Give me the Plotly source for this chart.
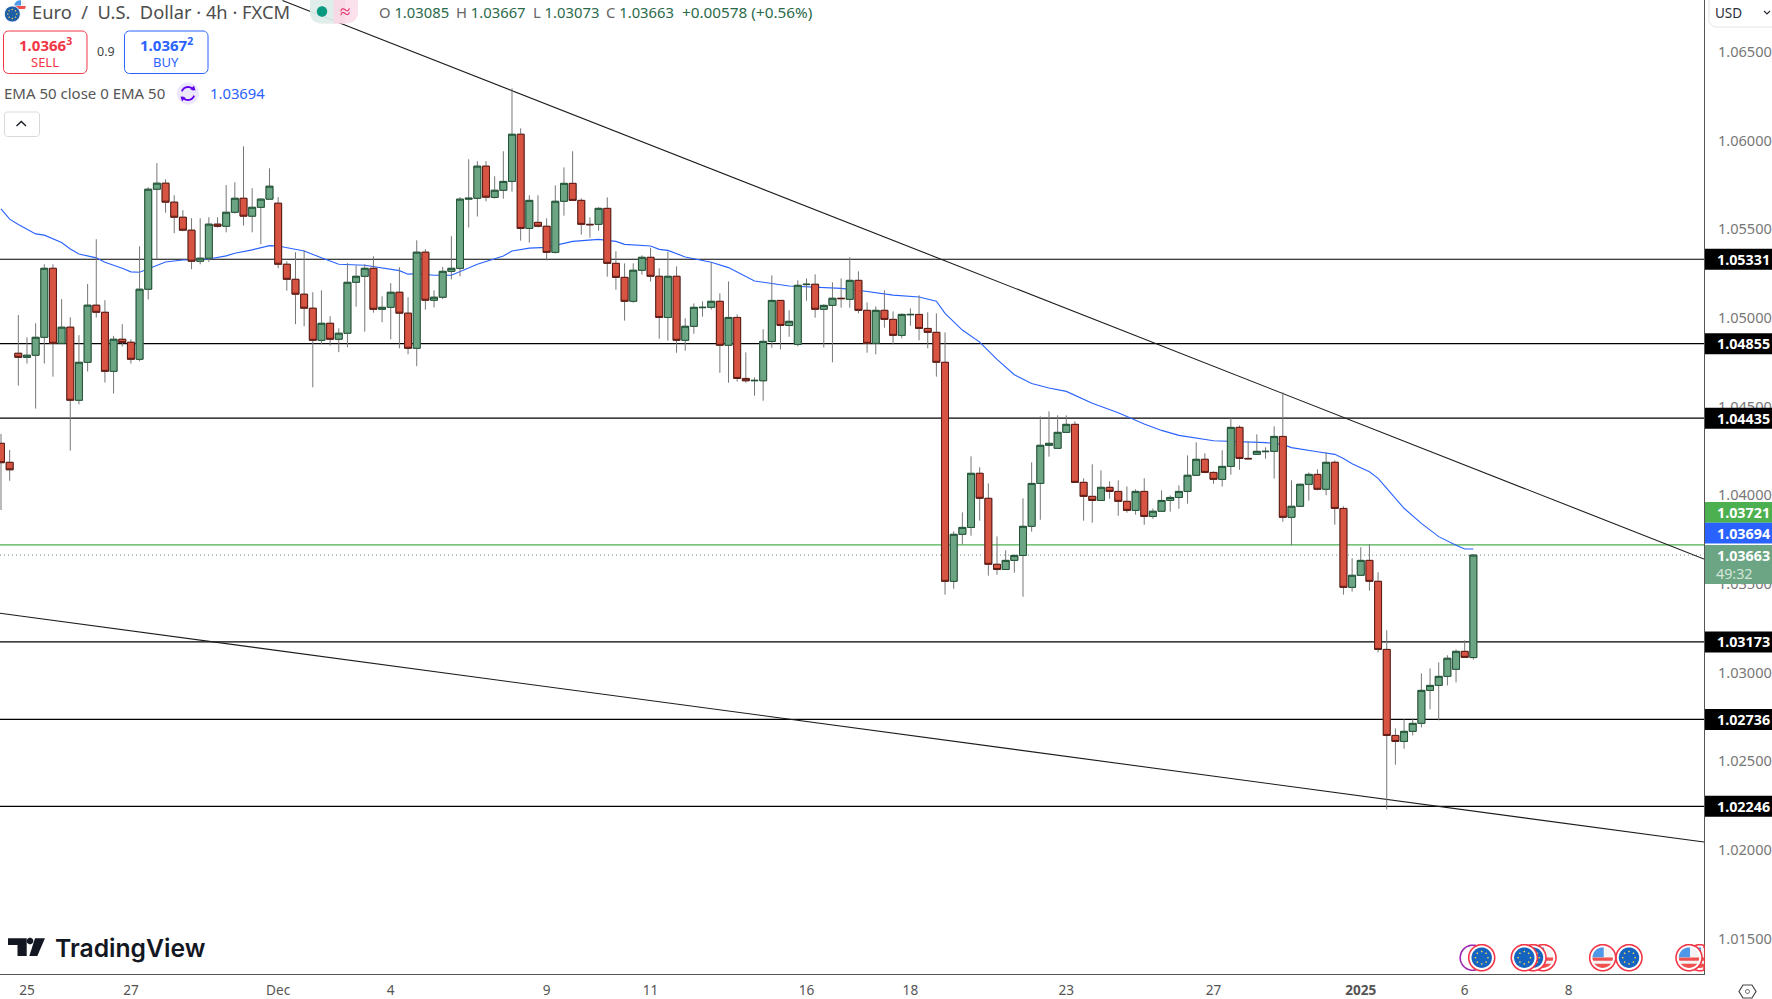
import math
import plotly.graph_objects as go

OPEN_P = [104293,104186,104801,104778,104790,104891,105280,104857,104948,104536,
104750,105072,105032,104699,104880,104863,104767,105162,105726,105760,
105653,105568,105495,105320,105337,105529,105517,105596,105675,105574,
105624,105670,105647,105303,105218,105134,105055,104874,104970,104880,
104914,105201,105235,105280,105049,105060,105145,105027,104829,105371,
105100,105117,105263,105280,105670,105675,105856,105680,105720,105770,
106036,105505,105539,105517,105370,105658,105759,105663,105528,105528,
105618,105308,105229,105094,105269,105342,105235,105003,105235,104874,
104953,105058,105060,105094,104846,105003,104659,104646,104646,104868,
105099,104958,104851,105188,105190,105049,105071,105111,105105,105212,
105043,104857,105043,104992,104902,105018,105020,104941,104919,104750,
103515,103780,103819,104124,103983,103611,103582,103633,103661,103825,
104067,104282,104265,104355,104400,104073,103994,103971,104045,104022,
103966,103915,104022,103881,103910,103971,103988,104022,104113,104203,
104129,104090,104163,104383,104208,104231,104246,104248,104332,103876,
103938,104062,104118,104034,104186,103926,103481,103549,103633,103515,
103131,102646,102612,102669,102714,102900,102928,102979,103019,103120,103085]
HIGH_P = [104346,104256,105017,104891,104970,105303,105303,105106,105004,104903,
105192,105444,105100,104899,104965,104880,105404,105737,105873,105782,
105692,105608,105562,105562,105568,105568,105749,105765,105968,105732,
105675,105844,105681,105320,105371,105382,105145,105156,105010,104942,
105309,105297,105303,105348,105122,105196,105286,105117,105438,105388,
105156,105288,105461,105681,105895,105884,105884,105799,105940,106295,
106069,105692,105692,105562,105748,105849,105940,105675,105567,105624,
105680,105376,105308,105308,105353,105396,105280,105374,105291,104998,
105082,105094,105314,105139,105206,105020,104806,104665,104936,105240,
105099,105043,105212,105223,105246,105077,105201,105223,105342,105263,
105088,105065,105156,105037,105026,105054,105128,105032,105026,104919,
103797,103904,104220,104158,104067,103768,103690,103667,103983,104186,
104445,104473,104451,104451,104417,104096,104175,104141,104079,104084,
104050,104034,104096,103926,104028,103999,104056,104225,104299,104237,
104135,104254,104440,104394,104304,104344,104270,104389,104581,104084,
104067,104129,104146,104242,104197,103938,103645,103707,103724,103566,
103239,102686,102737,102742,102996,103024,103058,103098,103131,103182,103667]
LOW_P = [103917,104082,104619,104743,104489,104743,104669,104857,104252,104513,
104698,105002,104636,104574,104839,104743,104756,105104,105331,105594,
105478,105489,105275,105303,105316,105510,105483,105589,105521,105483,
105416,105670,105280,105154,104965,104953,104609,104852,104844,104807,
104835,105064,104923,105030,104976,104880,104829,104795,104728,105047,
105060,105106,105218,105235,105510,105572,105658,105673,105673,105712,
105436,105425,105511,105325,105364,105577,105663,105470,105453,105492,
105233,105159,104985,105086,105244,105205,104883,104872,104804,104815,
104911,105007,105047,104691,104635,104641,104635,104562,104533,104832,
104823,104894,104840,105097,105002,104834,104750,105058,105058,105026,
104804,104795,104945,104851,104885,104956,104874,104829,104669,103440,
103473,103723,103772,103857,103547,103552,103580,103564,103428,103795,
103862,104218,104265,104355,104073,103857,103846,103971,103981,103885,
103902,103891,103834,103868,103910,103908,103924,103953,104113,104124,
104065,104049,104116,104144,104206,104231,104206,104094,103851,103718,
103938,103970,104028,104000,103834,103440,103457,103549,103462,103114,
102229,102481,102571,102646,102691,102793,102731,102928,102945,103086,103073]
CLOSE_P = [104184,104144,104778,104790,104891,105280,104857,104948,104536,104750,
105072,105032,104699,104880,104861,104767,105162,105726,105760,105653,
105568,105495,105320,105337,105529,105517,105596,105675,105574,105624,
105670,105743,105303,105218,105134,105055,104874,104970,104880,104914,
105201,105235,105280,105049,105060,105145,105027,104829,105371,105100,
105117,105263,105280,105670,105675,105856,105681,105720,105770,106036,
105505,105663,105517,105370,105658,105759,105663,105528,105526,105618,
105308,105229,105094,105269,105342,105235,105003,105235,104874,104953,
105060,105060,105094,104846,105003,104659,104646,104648,104868,105099,
104958,104981,105184,105190,105049,105071,105111,105109,105212,105043,
104857,105043,104992,104902,105020,105020,104941,104919,104750,103515,
103780,103819,104124,103983,103611,103582,103633,103661,103825,104067,
104282,104293,104355,104400,104073,103994,103971,104045,104022,103966,
103915,104022,103881,103910,103971,103988,104022,104113,104203,104129,
104090,104163,104383,104208,104206,104248,104248,104332,103876,103938,
104062,104118,104034,104186,103926,103481,103549,103633,103515,103131,
102646,102612,102669,102714,102900,102928,102979,103081,103120,103086,103663]

EMA_BAR = [0,1,2,4,5,7,8,9,11,12,14,15,16,18,19,21,24,26,27,29,31,32,35,37,39,42,46,47,48,50,52,55,57,
58,59,61,63,65,66,69,71,72,75,76,77,79,82,84,87,88,91,97,99,103,106,108,
109,111,113,115,117,119,121,123,126,129,132,134,136,140,144,146,148,149,152,154,
155,156,158,159,160,162,164,166,168,169,170]
EMA_P = [105615,105557,105527,105474,105467,105425,105389,105361,105339,105314,105280,105260,105258,105297,105316,105327,105333,105350,105365,105384,105408,105406,105378,105339,105303,105297,105267,105247,105250,105241,105241,105303,105333,
105349,105378,105394,105398,105423,105432,105443,105432,105415,105406,105387,105381,105344,105314,105284,105208,105201,105180,105167,105156,105129,105118,105094,
105026,104932,104864,104767,104680,104631,104605,104586,104519,104466,104402,104366,104338,104308,104299,104297,104287,104269,104246,104231,
104207,104178,104133,104096,104039,103927,103842,103767,103718,103697,103697]

LEVELS = [1.05331, 1.04855, 1.04435, 1.03173, 1.02736, 1.02246]
LEVEL_LABELS = ["1.05331", "1.04855", "1.04435", "1.03173", "1.02736", "1.02246"]
BID_LINE = 1.03721
LAST_PRICE = 1.03663
TREND_UPPER_BAR = [32.5, 196.63]
TREND_UPPER_PRICE = [1.0679, 1.03641]
TREND_LOWER_BAR = [-0.115, 196.63]
TREND_LOWER_PRICE = [1.03335, 1.02045]
PRICE_TICKS = [1.015, 1.02, 1.025, 1.03, 1.035, 1.04, 1.045, 1.05, 1.055, 1.06, 1.065]
PRICE_TICK_TEXT = ["1.01500", "1.02000", "1.02500", "1.03000", "1.03500", "1.04000", "1.04500", "1.05000", "1.05500", "1.06000", "1.06500"]
TIME_TICKS = [3, 15, 32, 45, 63, 75, 93, 105, 123, 140, 157, 169, 181]
TIME_TEXT = ["25", "27", "Dec", "4", "9", "11", "16", "18", "23", "27", "<b>2025</b>", "6", "8"]

W, H = 1772, 999
PW, PH = 1704, 974
X_RANGE = [-0.115, 196.63]
Y_RANGE = [1.013007, 1.06793]
FONT = "Noto Sans"

bars = list(range(len(OPEN_P)))
o = [v / 1e5 for v in OPEN_P]
h = [v / 1e5 for v in HIGH_P]
l = [v / 1e5 for v in LOW_P]
c = [v / 1e5 for v in CLOSE_P]
body_hi = [max(a, b) for a, b in zip(o, c)]
body_lo = [min(a, b) for a, b in zip(o, c)]

fig = go.Figure()
for lv in LEVELS:
    fig.add_trace(go.Scatter(x=X_RANGE, y=[lv, lv], mode="lines", line=dict(color="#000000", width=1.2), hoverinfo="skip"))
fig.add_trace(go.Scatter(x=X_RANGE, y=[BID_LINE, BID_LINE], mode="lines", line=dict(color="#4caf50", width=1.2), hoverinfo="skip"))
fig.add_trace(go.Scatter(x=X_RANGE, y=[LAST_PRICE, LAST_PRICE], mode="lines", line=dict(color="#5f8f75", width=1, dash="1px 3px"), hoverinfo="skip"))
fig.add_trace(go.Scatter(x=TREND_UPPER_BAR, y=TREND_UPPER_PRICE, mode="lines", line=dict(color="#1c1c1c", width=1.1), hoverinfo="skip"))
fig.add_trace(go.Scatter(x=TREND_LOWER_BAR, y=TREND_LOWER_PRICE, mode="lines", line=dict(color="#1c1c1c", width=1.1), hoverinfo="skip"))
fig.add_trace(go.Scatter(x=EMA_BAR, y=[v / 1e5 for v in EMA_P], mode="lines", line=dict(color="#2962ff", width=1.1), hoverinfo="skip"))

fig.add_trace(go.Candlestick(x=bars, open=o, high=h, low=l, close=c, xaxis="x2", yaxis="y2", whiskerwidth=0, hoverinfo="skip",
    increasing=dict(line=dict(color="#777777", width=1), fillcolor="#777777"),
    decreasing=dict(line=dict(color="#777777", width=1), fillcolor="#777777")))
fig.add_trace(go.Candlestick(x=bars, open=o, high=body_hi, low=body_lo, close=c, xaxis="x2", yaxis="y2", whiskerwidth=0, hoverinfo="skip",
    increasing=dict(line=dict(color="#225437", width=1), fillcolor="#6ba583"),
    decreasing=dict(line=dict(color="#5b1a13", width=1), fillcolor="#d75442")))


def px(x):
    return x / PW


def py(y):
    return 1 - y / PH


shapes = []
annos = []


def poly(points, fill=None, line=None, lw=1, closed=True):
    d = "M " + " L ".join(f"{px(x):.6f} {py(y):.6f}" for x, y in points) + (" Z" if closed else "")
    shapes.append(dict(type="path", xref="paper", yref="paper", path=d, layer="above",
                       fillcolor=fill if fill else "rgba(0,0,0,0)",
                       line=dict(color=line if line else "rgba(0,0,0,0)", width=lw if line else 0)))


def rect(x0, y0, x1, y1, fill):
    poly([(x0, y0), (x1, y0), (x1, y1), (x0, y1)], fill=fill)


def rrect(x0, y0, x1, y1, r, fill=None, line=None, lw=1):
    pts = []
    for cx, cy, a0 in ((x1 - r, y0 + r, -90), (x1 - r, y1 - r, 0), (x0 + r, y1 - r, 90), (x0 + r, y0 + r, 180)):
        for k in range(7):
            a = math.radians(a0 + 15 * k)
            pts.append((cx + r * math.cos(a), cy + r * math.sin(a)))
    poly(pts, fill=fill, line=line, lw=lw)


def disc(cx, cy, r, fill=None, line=None, lw=1, xmin=-1e9, xmax=1e9, ymin=-1e9, ymax=1e9):
    pts = []
    for k in range(48):
        a = 2 * math.pi * k / 48
        pts.append((min(max(cx + r * math.cos(a), xmin), xmax), min(max(cy + r * math.sin(a), ymin), ymax)))
    poly(pts, fill=fill, line=line, lw=lw)


def text(x, y, s, size=14, color="#333333", anchor="left", family=FONT, weight=None):
    f = dict(family=family, size=size, color=color)
    if weight:
        f["weight"] = weight
    annos.append(dict(xref="paper", yref="paper", x=px(x), y=py(y), text=s, showarrow=False, xanchor=anchor,
                      yanchor="middle", font=f, borderpad=0, borderwidth=0))


def eu_flag(cx, cy, r=13, clip=1704):
    disc(cx, cy, r, fill="#ffffff", line="#f23645", lw=1.6, xmax=clip)
    disc(cx, cy, r - 2.8, fill="#1565c0", xmax=clip)
    for k in range(8):
        a = 2 * math.pi * k / 8
        disc(cx + (r - 6.8) * math.cos(a), cy + (r - 6.8) * math.sin(a), 0.8, fill="#ffd54f")


def us_flag(cx, cy, r=13, clip=1704, ring="#f23645", top=-1e9):
    rr = r - 2.8
    disc(cx, cy, r, fill="#ffffff", line=ring, lw=1.6, xmax=clip, ymin=top)
    disc(cx, cy, rr, fill="#f4f4f4", xmax=clip, ymin=top)
    for y0, y1 in ((cy - 0.1, cy + 3.1), (cy + 6.0, cy + rr)):
        disc(cx, cy, rr, fill="#f0514f", xmax=clip, ymin=y0, ymax=y1)
    disc(cx, cy, rr, fill="#4f97e8", xmax=min(clip, cx + 1), ymax=cy - 0.5, ymin=top)


# ---- header ----
us_flag(20, 6, r=8.5, ring="#ffffff", top=0)
disc(12.3, 14, 8, fill="#1e5fa8", line="#ffffff", lw=1)
for k in range(8):
    a = 2 * math.pi * k / 8
    disc(12.3 + 4.5 * math.cos(a), 14 + 4.5 * math.sin(a), 0.7, fill="#ffd54f")
text(32, 12, "Euro  /  U.S.  Dollar · 4h · FXCM", size=18.3, color="#4d4d4d")
rrect(310, -8, 358, 23.5, 11, fill="rgba(250,215,228,0.75)")
rrect(310, -8, 345, 23.5, 11, fill="rgba(213,240,235,0.75)")
rect(333.6, -8, 345, 23.5, "rgba(250,215,228,0.9)")
disc(322, 11.5, 5.2, fill="#089981")
text(344.5, 11, "≈", size=19, color="#e91e63", anchor="center")
G = "#2a6a4b"
for x, a, b in ((378.6, "O", "1.03085"), (456, "H", "1.03667"), (533, "L", "1.03073"), (606, "C", "1.03663")):
    text(x, 12, f'<span style="color:#666">{a}</span><span style="color:{G}"> {b}</span>', size=14.8)
text(682, 12, f'<span style="color:{G}">+0.00578 (+0.56%)</span>', size=15.3)

rrect(3.5, 31, 87, 73.5, 5, fill="#ffffff", line="#f23645", lw=1)
text(45, 45, "<b>1.0366<sup>3</sup></b>", size=15, color="#f23645", anchor="center")
text(45, 62, "SELL", size=13, color="#f23645", anchor="center")
text(105.5, 51, "0.9", size=12.5, color="#444444", anchor="center")
rrect(124.5, 31, 208, 73.5, 5, fill="#ffffff", line="#2962ff", lw=1)
text(166, 45, "<b>1.0367<sup>2</sup></b>", size=15, color="#2962ff", anchor="center")
text(166, 62, "BUY", size=13, color="#2962ff", anchor="center")

text(4, 93, "EMA 50 close 0 EMA 50", size=15, color="#555555")
disc(188, 93.5, 11, fill="#ede7fb")
for a0 in (200, 20):
    pts = [(188 + 6.5 * math.cos(math.radians(a0 + 10 * k)), 93.5 + 6.5 * math.sin(math.radians(a0 + 10 * k))) for k in range(14)]
    poly(pts, line="#6200ea", lw=1.8, closed=False)
poly([(194, 85.5), (195.5, 90.5), (190.5, 89.5)], fill="#6200ea")
poly([(182, 101.5), (180.5, 96.5), (185.5, 97.5)], fill="#6200ea")
text(210, 93, "1.03694", size=14.8, color="#2962ff")

rrect(4.5, 112, 39.5, 136.5, 3, fill="#ffffff", line="#d8d9de", lw=1)
poly([(16.5, 126), (21.3, 121.5), (26, 126)], line="#131722", lw=1.3, closed=False)

# ---- logo ----
poly([(8, 938.3), (26.7, 938.3), (26.7, 956), (17.5, 956), (17.5, 945), (8, 945)], fill="#131722")
disc(30, 941, 3.3, fill="#131722")
poly([(35, 938.3), (45, 938.3), (37.3, 956), (29.3, 956)], fill="#131722")
text(54.5, 948, "TradingView", size=24.7, color="#131722", family="Inter", weight=600)

# ---- event icons ----
disc(1472.7, 957.7, 12.5, line="#9c27b0", lw=1.6)
eu_flag(1481.7, 957.7)
us_flag(1543, 957.7)
eu_flag(1533, 957.7)
eu_flag(1524.3, 957.7)
eu_flag(1629, 957.7)
us_flag(1602.7, 957.7)
us_flag(1700, 957.7)
us_flag(1689, 957.7)

# ---- price scale labels ----
for lv, lab in zip(LEVELS, LEVEL_LABELS):
    yy = (Y_RANGE[1] - lv) / (Y_RANGE[1] - Y_RANGE[0]) * PH
    rect(1705, yy - 10.5, 1772, yy + 10.5, "#000000")
    text(1743, yy, f"<b>{lab}</b>", size=14.3, color="#ffffff", anchor="center")
rect(1705, 502, 1772, 522.7, "#4caf50")
text(1743, 512.5, "<b>1.03721</b>", size=14.3, color="#ffffff", anchor="center")
rect(1705, 522.7, 1772, 543.5, "#2962ff")
text(1743, 533.5, "<b>1.03694</b>", size=14.3, color="#ffffff", anchor="center")
rect(1705, 545, 1772, 584, "#6ba583")
text(1743, 555.5, "<b>1.03663</b>", size=14.3, color="#ffffff", anchor="center")
text(1716, 573.5, "49:32", size=14.3, color="#d5e6da")

# ---- currency + settings ----
poly([(1709, -2), (1709, 22), (1714, 27), (1772, 27)], line="#e3e4e8", lw=1, closed=False)
text(1715, 12.5, "USD", size=13.5, color="#2a2e39")
poly([(1764, 11), (1767, 14), (1770, 11)], line="#2a2e39", lw=1.2, closed=False)
poly([(1743, 985), (1752, 985), (1756, 991.5), (1752, 998), (1743, 998), (1739, 991.5)], line="#444444", lw=1.2)
disc(1747.5, 991.5, 2, line="#444444", lw=1)

axis_common = dict(showgrid=False, zeroline=False, automargin=False)
fig.update_layout(
    width=W, height=H, margin=dict(l=0, r=W - PW, t=0, b=H - PH, pad=0),
    paper_bgcolor="#ffffff", plot_bgcolor="#ffffff", showlegend=False,
    boxgap=0.2, boxgroupgap=0, hovermode=False,
    font=dict(family=FONT, color="#555555", size=14),
    xaxis=dict(range=X_RANGE, tickvals=TIME_TICKS, ticktext=TIME_TEXT, showline=True, linecolor="#555555", linewidth=1,
               ticks="outside", ticklen=4, tickcolor="rgba(0,0,0,0)", tickfont=dict(size=13.6, color="#555555"),
               rangeslider=dict(visible=False), **axis_common),
    yaxis=dict(range=Y_RANGE, side="right", tickvals=PRICE_TICKS, ticktext=PRICE_TICK_TEXT, showline=True, linecolor="#555555", linewidth=1,
               ticks="outside", ticklen=10, tickcolor="rgba(0,0,0,0)", tickfont=dict(size=14.6, color="#777777"), **axis_common),
    xaxis2=dict(range=X_RANGE, overlaying="x", visible=False, rangeslider=dict(visible=False), **axis_common),
    yaxis2=dict(range=Y_RANGE, overlaying="y", visible=False, **axis_common),
    shapes=shapes, annotations=annos,
)
fig.write_html("out.html", config=dict(displayModeBar=False),
               post_script="document.body.style.margin='0';document.body.style.overflow='hidden';")
